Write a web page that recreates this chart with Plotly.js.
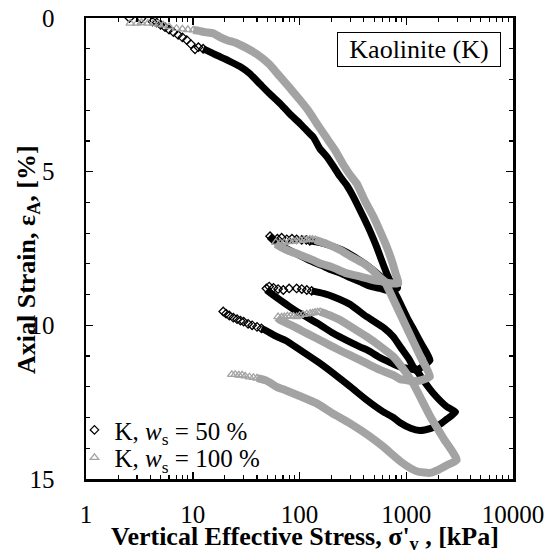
<!DOCTYPE html>
<html>
<head>
<meta charset="utf-8">
<script src="https://cdn.plot.ly/plotly-3.0.1.min.js"></script>
<style>html,body{margin:0;padding:0;background:#fff;}#chart{width:548px;height:554px;}</style>
</head>
<body>
<div id="chart"></div>
<script>
// ---- Data (stress kPa, axial strain %) ----
// K, ws = 50 % : dense measurements (drawn as a thick trace), null = gap
const k50LineStress = [12.5,14,16,18,22,27.7,34,42.7,52,65.7,80,101,120,135,155,180,210,240,278,319,396,460,527,590,656,720,780,830,
  760,680,568,450,380,300,240,200,160,130,100,80,65,57,52, null,
  125,160,200,250,300,380,450,550,650,720,814,1010,1200,1400,1668,
  1450,1250,1100,876,700,568,430,369,280,207,150,101,80,66,56,49, null,
  130,170,207,295,426,627,757,900,1061,1164,1300,1440,1790,2400,2900,
  2400,2070,1700,1335,1100,876,757,600,426,300,207,150,101,75,60,49,44];
const k50LineStrain = [1.0,1.08,1.18,1.26,1.4,1.58,1.8,2.15,2.45,2.78,3.1,3.43,3.7,3.88,4.25,4.51,4.85,5.16,5.45,5.81,6.47,6.95,7.44,7.9,8.31,8.6,8.72,8.78,
  8.85,8.87,8.8,8.72,8.6,8.45,8.3,8.2,8.05,7.92,7.72,7.55,7.38,7.22,7.1, null,
  7.25,7.32,7.42,7.55,7.7,7.92,8.1,8.35,8.58,8.74,9.05,9.72,10.2,10.63,11.13,
  11.32,11.45,11.42,11.35,11.2,11.05,10.8,10.7,10.5,10.26,9.95,9.61,9.38,9.18,9.0,8.85, null,
  8.88,8.97,9.07,9.31,9.72,10.1,10.37,10.75,11.1,11.35,11.55,11.78,12.21,12.65,12.82,
  13.05,13.22,13.35,13.42,13.35,13.17,13.0,12.8,12.43,12.0,11.56,11.2,10.8,10.5,10.35,10.18,10.1];
// K, ws = 50 % : sparse individual points
const k50PtStress = [2.55,3.3,4.2,4.6,5.0,5.5,6.0,6.6,7.3,8.0,8.8,9.6,10.5,11.3,12.5,
  53,56,62,68,76,85,94,105,116,125,
  49,52,57,63,70.5,80,94,105,117,130,
  44,40,36,33,30,28,26,24,22,20.5,19.3];
const k50PtStrain = [0.0,0.02,0.12,0.15,0.22,0.3,0.38,0.46,0.55,0.63,0.72,0.85,1.02,0.95,1.0,
  7.1,7.2,7.18,7.15,7.2,7.18,7.2,7.22,7.22,7.25,
  8.8,8.74,8.78,8.82,8.85,8.8,8.8,8.82,8.85,8.88,
  10.1,10.05,10.0,9.95,9.88,9.85,9.8,9.75,9.68,9.62,9.55];

// K, ws = 100 % : dense measurements
const k100LineStress = [10.1,11.5,13,15.6,18,21,25.8,32,40,52,65.7,80,101,120,145,175,215,260,297,343,410,493,570,656,740,800,844,
  707,600,493,380,278,200,160,134,100,80,66,60, null,
  140,180,240,300,396,480,568,630,700,900,1164,1400,1668,
  1400,1164,986,876,757,568,426,300,240,170,117,90,75,66,62, null,
  156,200,240,320,426,580,757,950,1164,1668,2224,2970,
  2400,2000,1668,1320,1164,900,609,450,297,200,145,100,75,61,49,40];
const k100LineStrain = [0.39,0.42,0.46,0.5,0.62,0.72,0.82,0.98,1.18,1.5,1.91,2.25,2.67,3.0,3.43,3.85,4.3,4.8,5.1,5.38,5.95,6.47,6.95,7.44,7.95,8.35,8.63,
  8.63,8.58,8.53,8.42,8.31,8.1,8.0,7.88,7.7,7.58,7.44,7.35, null,
  7.22,7.35,7.55,7.75,7.98,8.2,8.45,8.58,8.91,9.71,10.53,11.11,11.67,
  11.78,11.82,11.78,11.75,11.62,11.45,11.24,10.98,10.82,10.55,10.26,10.05,9.92,9.83,9.75, null,
  9.56,9.7,9.83,10.1,10.37,10.7,11.02,11.45,11.9,12.95,13.67,14.38,
  14.55,14.7,14.8,14.77,14.7,14.45,13.95,13.6,13.19,12.85,12.54,12.3,12.12,12.0,11.8,11.72];
// K, ws = 100 % : sparse individual points
const k100PtStress = [2.6,3.0,3.3,3.8,4.27,4.8,5.3,6.0,7.05,8.0,9.0,10.1,
  60,66,72,80,88,94,102,110,118,125,132,140,
  63,68,72,77,82,88,94,100,108,117,126,133,140,148,156,
  40,37,34,31,29,27,25,23.2];
const k100PtStrain = [0.17,0.17,0.15,0.17,0.17,0.2,0.23,0.28,0.34,0.36,0.38,0.39,
  7.3,7.32,7.3,7.28,7.27,7.25,7.24,7.22,7.21,7.2,7.2,7.22,
  9.72,9.73,9.72,9.7,9.7,9.71,9.72,9.68,9.65,9.63,9.61,9.6,9.58,9.57,9.56,
  11.72,11.7,11.68,11.65,11.62,11.62,11.6,11.6];

const xTickVals = [1,10,100,1000,10000];
const xTickText = ['1','10','100','1000','10000'];
const seriesNames = ['K, <i>w</i><sub>s</sub> = 50 %', 'K, <i>w</i><sub>s</sub> = 100 %'];
const xTitle = "<b>Vertical Effective Stress, σ'<sub>v</sub> , [kPa]</b>";
const yTitle = '<b>Axial Strain, ε<sub>A</sub>, [%]</b>';
const boxLabel = 'Kaolinite (K)';
// -------------------------------------------------------------------

const FONT = '"Liberation Serif", "Times New Roman", Times, serif';
const BLACK = '#000000';
const GRAY = '#a3a3a3';

const traces = [
  {x:k50LineStress, y:k50LineStrain, mode:'lines', line:{color:BLACK, width:7, shape:'spline', smoothing:0.5}, connectgaps:false, showlegend:false, hoverinfo:'skip'},
  {x:k50PtStress, y:k50PtStrain, mode:'markers', name:seriesNames[0], legend:'legend',
   marker:{symbol:'diamond-open', size:6.5, color:BLACK, line:{width:1.3, color:BLACK}}},
  {x:k100LineStress, y:k100LineStrain, mode:'lines', line:{color:GRAY, width:8, shape:'spline', smoothing:0.5}, connectgaps:false, showlegend:false, hoverinfo:'skip'},
  {x:k100PtStress, y:k100PtStrain, mode:'markers', name:seriesNames[1], legend:'legend2',
   marker:{symbol:'triangle-up-open', size:7.5, color:GRAY, line:{width:1.3, color:GRAY}}}
];

const axisCommon = {
  showline:true, linecolor:BLACK, linewidth:2.5, mirror:'ticks',
  ticks:'inside', ticklen:7, tickwidth:1.5, tickcolor:BLACK,
  showgrid:false, zeroline:false,
  tickfont:{family:FONT, size:25, color:BLACK}
};

const legendCommon = {xanchor:'left', yanchor:'middle', bgcolor:'rgba(0,0,0,0)',
  font:{family:FONT, size:25, color:BLACK}, itemwidth:30, borderwidth:0};

const layout = {
  width:548, height:554,
  margin:{l:86, r:35, t:18, b:75},
  paper_bgcolor:'#fff', plot_bgcolor:'#fff',
  font:{family:FONT, color:BLACK},
  xaxis: Object.assign({}, axisCommon, {
    type:'log', range:[0,4], tickmode:'array', tickvals:xTickVals, ticktext:xTickText,
    ticklabelstandoff:11,
    minor:{dtick:'D1', ticks:'inside', ticklen:4, tickwidth:1.2, tickcolor:BLACK, showgrid:false}
  }),
  yaxis: Object.assign({}, axisCommon, {
    range:[15,0], tick0:0, dtick:5,
    ticklabelstandoff:24,
    minor:{dtick:1, ticks:'inside', ticklen:4, tickwidth:1.2, tickcolor:BLACK, showgrid:false}
  }),
  legend: Object.assign({}, legendCommon, {x:-0.027, y:0.106}),
  legend2: Object.assign({}, legendCommon, {x:-0.027, y:0.046}),
  annotations:[
    {text:boxLabel, xref:'paper', yref:'paper', x:0.781, y:0.932, xanchor:'center', yanchor:'middle',
     showarrow:false, font:{family:FONT, size:26, color:BLACK}, width:158, height:29,
     bordercolor:BLACK, borderwidth:1, borderpad:2, bgcolor:'#fff'},
    {text:xTitle, xref:'paper', yref:'paper', x:0.513, y:-0.129, xanchor:'center', yanchor:'middle',
     showarrow:false, font:{family:FONT, size:26, color:BLACK}},
    {text:yTitle, xref:'paper', yref:'paper', x:-0.136, y:0.477, xanchor:'center', yanchor:'middle',
     textangle:-90, showarrow:false, font:{family:FONT, size:26, color:BLACK}}
  ]
};

Plotly.newPlot('chart', traces, layout, {displayModeBar:false, staticPlot:true});
</script>
</body>
</html>
